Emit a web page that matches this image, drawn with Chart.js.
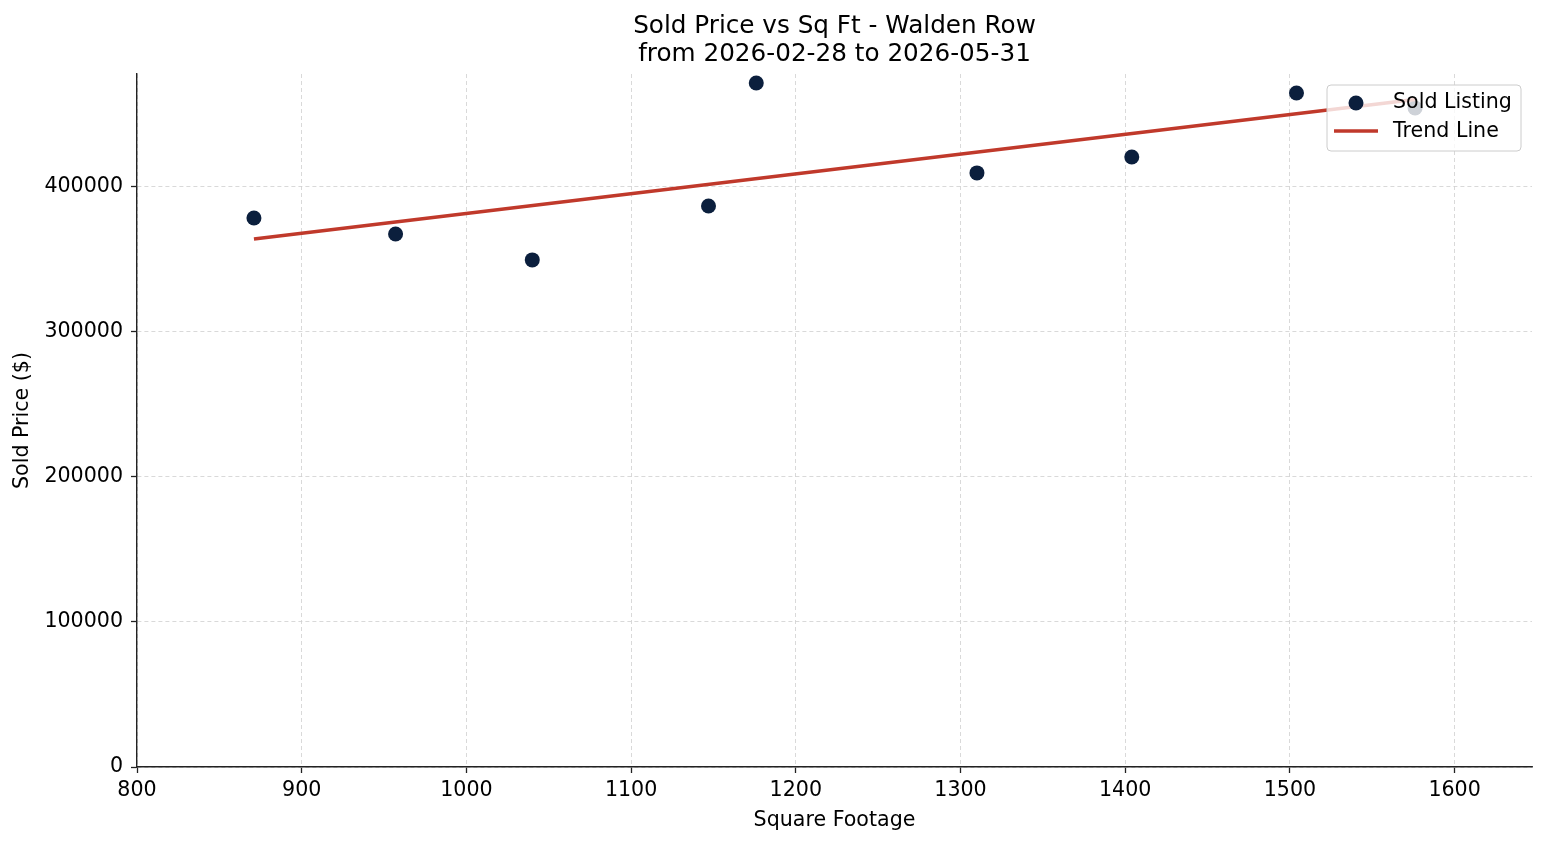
<!DOCTYPE html>
<html>
<head>
<meta charset="utf-8">
<script src="https://cdn.jsdelivr.net/npm/chart.js@4.4.1/dist/chart.umd.min.js"></script>
<style>
  html, body { margin: 0; padding: 0; background: #fff; }
  #wrap { width: 1547px; height: 845px; }
</style>
</head>
<body>
<div id="wrap"><canvas id="chart"></canvas></div>
<script>
// sold listings
const sqft = [871, 957, 1040, 1147, 1176, 1310, 1404, 1504, 1576];
const soldPrice = [378600, 367600, 349700, 386900, 471700, 409700, 420700, 464800, 454500];

// trend line end points
const trendSqft = [871, 1576];
const trendPrice = [364100, 460300];

const titleLines = ['Sold Price vs Sq Ft - Walden Row', 'from 2026-02-28 to 2026-05-31'];
const xTicks = [800, 900, 1000, 1100, 1200, 1300, 1400, 1500, 1600];
const yTicks = [0, 100000, 200000, 300000, 400000];

const FONT = '"DejaVu Sans", sans-serif';
const LABEL_SIZE = 20.6;
const dotColor = '#0b1f3d';
const trendColor = '#c0392b';

// title centred over the axes, like the original
const titlePlugin = {
    id: 'axesTitle',
    afterDraw(chart) {
        const ctx = chart.ctx;
        const area = chart.chartArea;
        const cx = (area.left + area.right) / 2;
        ctx.save();
        ctx.fillStyle = '#000';
        ctx.font = '24.7px ' + FONT;
        ctx.textAlign = 'center';
        ctx.textBaseline = 'middle';
        ctx.fillText(titleLines[0], cx, 27);
        ctx.fillText(titleLines[1], cx, 55);
        ctx.restore();
    }
};

// legend box drawn over the points with a see-through white background
const legendPlugin = {
    id: 'boxLegend',
    afterDatasetsDraw(chart) {
        const ctx = chart.ctx;
        const x = 1327, y = 85, w = 194, h = 66, r = 4;
        ctx.save();
        ctx.beginPath();
        ctx.roundRect(x, y, w, h, r);
        ctx.fillStyle = 'rgba(255,255,255,0.8)';
        ctx.fill();
        ctx.strokeStyle = '#cccccc';
        ctx.lineWidth = 1;
        ctx.stroke();

        ctx.beginPath();
        ctx.arc(1356, 103, 7.5, 0, Math.PI * 2);
        ctx.fillStyle = dotColor;
        ctx.fill();

        ctx.beginPath();
        ctx.moveTo(1334, 131);
        ctx.lineTo(1378, 131);
        ctx.strokeStyle = trendColor;
        ctx.lineWidth = 3.4;
        ctx.stroke();

        ctx.fillStyle = '#000';
        ctx.font = LABEL_SIZE + 'px ' + FONT;
        ctx.textAlign = 'left';
        ctx.textBaseline = 'middle';
        ctx.fillText(chart.data.datasets[0].label, 1393, 103);
        ctx.fillText(chart.data.datasets[1].label, 1393, 132);
        ctx.restore();
    }
};

const gridStyle = {
    color: '#cfcfcf',
    lineWidth: 0.8,
    tickColor: '#222',
    tickLength: 6,
    tickWidth: 1.3
};

const ctx = document.getElementById('chart').getContext('2d');
new Chart(ctx, {
    type: 'scatter',
    data: {
        datasets: [
            {
                label: 'Sold Listing',
                data: sqft.map((v, i) => ({ x: v, y: soldPrice[i] })),
                backgroundColor: dotColor,
                borderColor: dotColor,
                pointRadius: 7.5,
                pointHoverRadius: 7.5,
                borderWidth: 0,
                order: 2
            },
            {
                label: 'Trend Line',
                type: 'line',
                data: trendSqft.map((v, i) => ({ x: v, y: trendPrice[i] })),
                borderColor: trendColor,
                borderWidth: 3.4,
                pointRadius: 0,
                fill: false,
                order: 1
            }
        ]
    },
    options: {
        responsive: true,
        maintainAspectRatio: false,
        animation: false,
        layout: { padding: { left: 0, right: 15, top: 74, bottom: 0 } },
        plugins: {
            legend: { display: false },
            title: { display: false },
            tooltip: { enabled: false }
        },
        scales: {
            x: {
                type: 'linear',
                min: 800,
                max: 1647,
                afterBuildTicks: function (scale) {
                    scale.ticks = xTicks.map(v => ({ value: v }));
                },
                afterFit: function (scale) { scale.height = 78; },
                ticks: {
                    color: '#000',
                    font: { family: FONT, size: LABEL_SIZE },
                    padding: 5,
                    maxRotation: 0,
                    callback: v => String(v)
                },
                grid: gridStyle,
                border: { display: true, color: '#222', width: 1.4, dash: [4, 3] },
                title: {
                    display: true,
                    text: 'Square Footage',
                    color: '#000',
                    font: { family: FONT, size: LABEL_SIZE },
                    padding: { top: 0, bottom: 12 }
                }
            },
            y: {
                type: 'linear',
                min: 0,
                max: 477900,
                afterBuildTicks: function (scale) {
                    scale.ticks = yTicks.map(v => ({ value: v }));
                },
                afterFit: function (scale) { scale.width = 137; },
                ticks: {
                    color: '#000',
                    font: { family: FONT, size: LABEL_SIZE },
                    padding: 8,
                    callback: v => String(v)
                },
                grid: gridStyle,
                border: { display: true, color: '#222', width: 1.4, dash: [4, 3] },
                title: {
                    display: true,
                    text: 'Sold Price ($)',
                    color: '#000',
                    font: { family: FONT, size: LABEL_SIZE },
                    padding: { top: 10, bottom: 0 }
                }
            }
        }
    },
    plugins: [titlePlugin, legendPlugin]
});
</script>
</body>
</html>
